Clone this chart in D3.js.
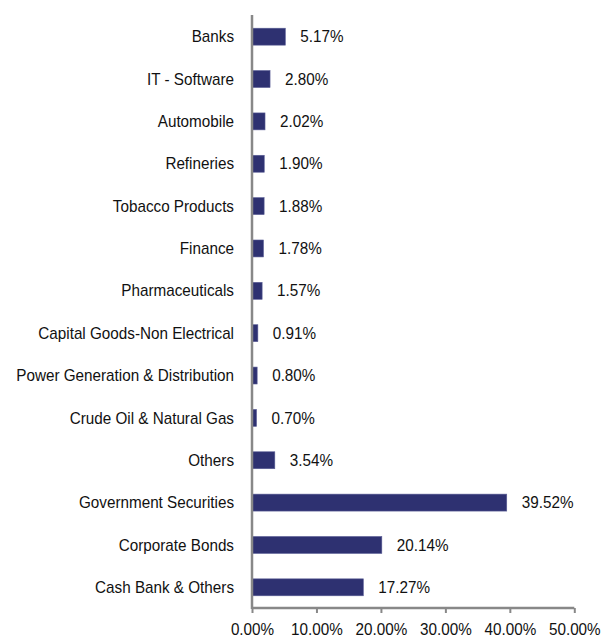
<!DOCTYPE html>
<html><head><meta charset="utf-8">
<script src="https://cdn.jsdelivr.net/npm/d3@7"></script>
<style>body{margin:0;background:#fff;} text{font-family:"Liberation Sans",Arial,sans-serif;}</style>
</head><body>
<svg id="c" width="603" height="638"></svg>
<script>
const categories = ["Banks","IT - Software","Automobile","Refineries","Tobacco Products","Finance","Pharmaceuticals","Capital Goods-Non Electrical","Power Generation & Distribution","Crude Oil & Natural Gas","Others","Government Securities","Corporate Bonds","Cash Bank & Others"];
const values = [5.17,2.80,2.02,1.90,1.88,1.78,1.57,0.91,0.80,0.70,3.54,39.52,20.14,17.27];
const tickValues = [0,10,20,30,40,50];

const FS = 16.2, SX = 0.942;
const svg = d3.select("#c");
const x = d3.scaleLinear().domain([0,50]).range([252,574.3]);
const y = d3.scaleBand().domain(categories).range([15,608]).paddingInner(0.6).paddingOuter(0.3);
const data = categories.map((c,i)=>({c, v: values[i]}));

svg.selectAll("rect.bar").data(data).join("rect")
  .attr("class","bar")
  .attr("x", x(0)).attr("y", d=>y(d.c)+0.5)
  .attr("width", d=>x(d.v)-x(0)).attr("height", y.bandwidth())
  .attr("fill","#2e3171").attr("stroke","#5a5d95").attr("stroke-width",0.6);

svg.selectAll("text.val").data(data).join("text")
  .attr("class","val")
  .attr("transform", d=>`translate(${x(d.v)+15},${y(d.c)+y.bandwidth()/2+0.5}) scale(${SX},1)`)
  .attr("dy","0.35em").attr("font-size",FS).attr("fill","#111")
  .text(d=>d.v.toFixed(2)+"%");

svg.selectAll("text.cat").data(data).join("text")
  .attr("class","cat")
  .attr("transform", d=>`translate(234,${y(d.c)+y.bandwidth()/2+0.5}) scale(${SX},1)`)
  .attr("dy","0.35em").attr("text-anchor","end").attr("font-size",FS).attr("fill","#111")
  .text(d=>d.c);

// axes
const xAxis = d3.axisBottom(x).tickValues(tickValues).tickSize(5).tickFormat(d=>d.toFixed(2)+"%");
const gx = svg.append("g").attr("transform","translate(0,608)").call(xAxis);
gx.select(".domain").attr("stroke","#888").attr("stroke-width",2.5).attr("d","M252,0H574.3");
gx.selectAll(".tick line").attr("stroke","#888").attr("stroke-width",2);
gx.selectAll(".tick text").attr("font-size",FS).attr("fill","#111").attr("y",null).attr("dy",null)
  .attr("transform",`translate(0,27) scale(${SX},1)`).attr("font-family","Liberation Sans, Arial, sans-serif");

svg.append("line").attr("x1",252).attr("x2",252).attr("y1",15).attr("y2",609)
  .attr("stroke","#888").attr("stroke-width",2.5);
</script>
</body></html>
